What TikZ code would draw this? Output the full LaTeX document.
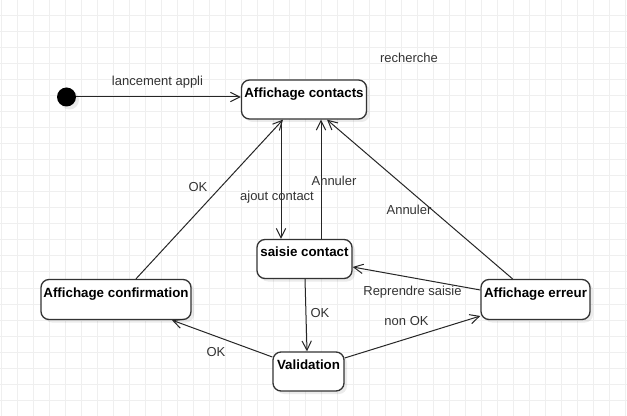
\documentclass[tikz,border=0pt]{standalone}
\usepackage{fontspec}
\setmainfont{Liberation Sans}
\usetikzlibrary{arrows.meta,positioning,calc,shadows}

\definecolor{gridgray}{HTML}{EFEFEF}
\definecolor{inkgray}{HTML}{333333}

\tikzset{
	state/.style={draw=inkgray, line width=1pt, fill=white, rounded corners=6pt,
		font=\bfseries, inner sep=0pt, text height=7pt, text depth=10pt,
		drop shadow={shadow xshift=2.25pt,shadow yshift=-2.25pt,fill=black,opacity=0.08}},
	initdot/.style={circle, fill=black, minimum size=14.25pt, inner sep=0pt,
		drop shadow={shadow xshift=2.25pt,shadow yshift=-2.25pt,fill=black,opacity=0.08}},
	trans/.style={draw=black!85, line width=0.75pt, -{Straight Barb[length=7pt,width=7pt]}},
	lbl/.style={text=inkgray, inner sep=0pt},
	gridline/.style={draw=gridgray, line width=0.75pt}
}

\begin{document}
\begin{tikzpicture}[x=0.75pt,y=-0.75pt,font=\fontsize{9.75}{11.7}\selectfont]
	\useasboundingbox (0,0) rectangle (627,416);
	\fill[white] (0,0) rectangle (627,416);
	% grid
	\foreach \gx in {1,17,...,625} \draw[gridline] (\gx,0) -- (\gx,416);
	\foreach \gy in {0,16,...,416} \draw[gridline] (0,\gy) -- (627,\gy);

	% states
	\node[initdot] (init) at (66.5,97) {};
	\node[state, minimum width=93.75pt, minimum height=29.25pt] (contacts) at (304,99.5) {Affichage contacts};
	\node[state, minimum width=71.25pt, minimum height=29.25pt] (saisie) at (304.5,259) {saisie contact};
	\node[state, minimum width=112.5pt, minimum height=30pt] (confirm) at (116,299.5) {Affichage confirmation};
	\node[state, minimum width=53.25pt, minimum height=29.25pt] (validation) at (308.5,371.5) {Validation};
	\node[state, minimum width=81.75pt, minimum height=30pt] (erreur) at (535.5,299.5) {Affichage erreur};

	% transitions
	\draw[trans] (init) -- (contacts.west |- init);
	\draw[trans] ($(contacts.south)+(-23,0)$) -- ($(saisie.north)+(-23.5,0)$);
	\draw[trans] ($(saisie.north)+(16.5,0)$) -- ($(contacts.south)+(17,0)$);
	\draw[trans] ($(confirm.north)+(20,0)$) -- ($(contacts.south)+(-21,0)$);
	\draw[trans] ($(erreur.north)+(-23,0)$) -- ($(contacts.south)+(23,0)$);
	\draw[trans] ($(saisie.south)+(0.5,0)$) -- ($(validation.north)+(-1.5,0)$);
	\draw[trans] ($(validation.west)+(0,-14.5)$) -- ($(confirm.south)+(56,0)$);
	\draw[trans] ($(validation.east)+(0,-13.5)$) -- ($(erreur.west)+(0,16.5)$);
	\draw[trans] ($(erreur.west)+(0,-9.5)$) -- ($(saisie.east)+(0,8)$);

	% labels
	\node[lbl] (lLancement) at (157.5,82) {lancement appli};
	\node[lbl] (lRecherche) at (409,58) {recherche};
	\node[lbl] (lOKconf) at (198,187) {OK};
	\node[lbl] (lAjout) at (277,197.5) {ajout contact};
	\node[lbl] (lAnnulerSaisie) at (334,180.5) {Annuler};
	\node[lbl] (lAnnulerErreur) at (409,209.5) {Annuler};
	\node[lbl] (lReprendre) at (412.5,292) {Reprendre saisie};
	\node[lbl] (lOKvalid) at (320,313) {OK};
	\node[lbl] (lNonOK) at (406.5,321) {non OK};
	\node[lbl] (lOKretour) at (216,352.5) {OK};
\end{tikzpicture}
\end{document}
